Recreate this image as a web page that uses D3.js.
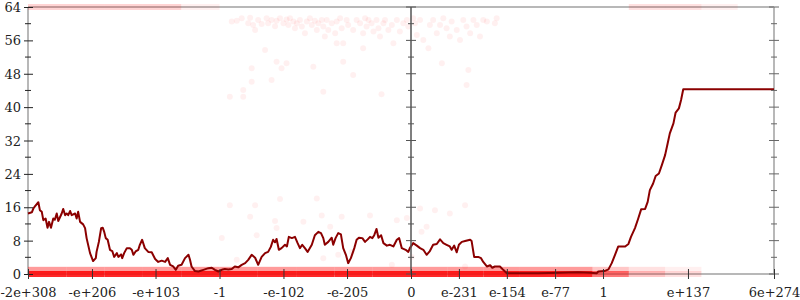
<!DOCTYPE html>
<html>
<head>
<meta charset="utf-8">
<script src="https://cdn.jsdelivr.net/npm/d3@7"></script>
<style>
  body { margin: 0; background: #fff; }
  text { font-family: "DejaVu Serif", serif; font-size: 13px; fill: #222; }
</style>
</head>
<body>
<div id="container"></div>
<script>
/* CONSTANTS AND GLOBALS */
const width = 800,
  height = 300,
  margin = {top: 7, bottom: 26, left: 28, right: 26},
  dotR = 3,
  dotAlpha = 0.06;

// x runs over the ordering of doubles: u = -1 is -max, 0 is zero, +1 is +max
const xTickU = [-1, -0.833, -0.667, -0.5, -0.333, -0.167, 0, 0.132, 0.264, 0.397, 0.529, 0.763, 1];
const xTickLabels = ["-2e+308", "-e+206", "-e+103", "-1", "-e-102", "-e-205", "0",
  "e-231", "e-154", "e-77", "1", "e+137", "6e+274"];
const yMajor = [0, 8, 16, 24, 32, 40, 48, 56, 64];
const yMinor = [4, 12, 20, 28, 36, 44, 52, 60];

// running line (u, value)
const lineU = [-1, -0.990, -0.986, -0.982, -0.973, -0.969, -0.964, -0.960, -0.954, -0.949, -0.945, -0.940,
  -0.934, -0.930, -0.925, -0.921, -0.912, -0.908, -0.903, -0.899, -0.895, -0.890, -0.886, -0.877, -0.873,
  -0.869, -0.864, -0.856, -0.851, -0.847, -0.838, -0.830, -0.823, -0.821, -0.815, -0.809, -0.805, -0.801,
  -0.797, -0.792, -0.786, -0.780, -0.775, -0.768, -0.764, -0.757, -0.754, -0.749, -0.742, -0.734, -0.729,
  -0.725, -0.719, -0.712, -0.708, -0.702, -0.695, -0.686, -0.677, -0.668, -0.660, -0.651, -0.642, -0.635,
  -0.629, -0.621, -0.614, -0.608, -0.599, -0.590, -0.581, -0.577, -0.573, -0.564, -0.555, -0.542, -0.529,
  -0.520, -0.512, -0.503, -0.494, -0.486, -0.477, -0.468, -0.460, -0.451, -0.442, -0.433, -0.425, -0.416,
  -0.407, -0.399, -0.390, -0.381, -0.373, -0.366, -0.360, -0.355, -0.351, -0.345, -0.338, -0.329, -0.324,
  -0.319, -0.311, -0.303, -0.296, -0.290, -0.284, -0.277, -0.270, -0.259, -0.251, -0.242, -0.235, -0.229,
  -0.225, -0.216, -0.207, -0.203, -0.197, -0.190, -0.183, -0.177, -0.170, -0.164, -0.157, -0.148, -0.142,
  -0.136, -0.127, -0.120, -0.113, -0.107, -0.101, -0.096, -0.090, -0.085, -0.078, -0.072, -0.063, -0.055,
  -0.046, -0.037, -0.031, -0.024, -0.014, -0.007, -0.003,
  0.006, 0.016, 0.025, 0.034, 0.043, 0.052, 0.061, 0.071, 0.080, 0.089, 0.098, 0.107, 0.112, 0.119, 0.126,
  0.132, 0.140, 0.149, 0.163, 0.167, 0.174, 0.185, 0.193, 0.199, 0.209, 0.218, 0.224, 0.231, 0.245, 0.254,
  0.264, 0.300, 0.350, 0.410, 0.460, 0.493, 0.512, 0.516, 0.533, 0.544, 0.553, 0.562, 0.571, 0.590, 0.599,
  0.606, 0.617, 0.626, 0.634, 0.645, 0.652, 0.658, 0.667, 0.674, 0.683, 0.691, 0.700, 0.707, 0.713, 0.723,
  0.729, 0.738, 0.744, 0.750, 1];
const lineV = [14.5, 14.8, 15.7, 16.2, 17.2, 15.3, 14.9, 12.9, 13.3, 11.1, 12.5, 11.1,
  13.3, 13.0, 14.5, 12.7, 14.5, 15.6, 14.1, 14.5, 14.1, 15.1, 14.1, 14.5, 13.3,
  14.9, 12.5, 11.9, 11.0, 8.6, 5.0, 3.1, 3.8, 5.3, 7.7, 11.0, 11.1, 10.1,
  8.6, 8.2, 5.8, 5.5, 4.1, 5.0, 4.1, 4.7, 3.8, 5.0, 6.2, 6.2, 5.8,
  4.6, 5.4, 5.8, 7.0, 8.2, 6.2, 5.3, 5.2, 3.6, 2.9, 3.2, 2.9, 3.8,
  2.2, 1.8, 1.0, 2.0, 2.2, 3.8, 4.6, 3.4, 1.8, 0.7, 0.6, 1.0, 1.4,
  1.5, 1.0, 0.6, 1.0, 1.2, 1.1, 1.2, 1.8, 1.6, 2.2, 2.6, 3.4, 4.6,
  3.9, 2.2, 4.1, 5.0, 5.3, 6.5, 8.2, 7.6, 8.4, 5.8, 6.2, 7.0, 6.6,
  8.9, 8.6, 8.9, 7.4, 6.2, 7.0, 6.2, 5.3, 7.0, 9.3, 10.1, 9.8, 8.6,
  7.0, 7.7, 8.7, 7.0, 8.6, 9.8, 9.5, 6.2, 4.6, 2.6, 3.8, 6.2, 8.2,
  8.7, 8.6, 7.7, 8.3, 8.9, 8.6, 9.3, 10.8, 8.7, 9.3, 7.4, 6.8, 7.0,
  6.6, 8.2, 8.6, 6.2, 5.8, 5.3, 6.2,
  7.4, 6.8, 6.2, 5.8, 4.6, 5.5, 7.0, 7.2, 8.3, 7.4, 7.0, 6.6, 5.8, 6.8, 5.2,
  7.0, 7.7, 7.9, 8.2, 7.9, 4.1, 4.1, 3.8, 2.9, 1.8, 2.1, 1.5, 1.8, 1.8, 1.0,
  0.2, 0.2, 0.2, 0.3, 0.4, 0.3, 0.2, 0.6, 0.7, 1.1, 2.6, 4.6, 6.6, 6.6, 7.2,
  8.9, 11.0, 13.3, 15.5, 15.6, 17.3, 20.1, 21.7, 23.5, 24.1, 26.1, 28.5, 31.3, 33.7, 36.1,
  38.7, 39.7, 41.7, 44.3, 44.3];

// scattered samples (u, value)
const dotU = [-0.468, -0.455, -0.442, -0.420, -0.425, -0.412, -0.407, -0.399, -0.390, -0.377, -0.373, -0.364,
  -0.355, -0.351, -0.342, -0.333, -0.325, -0.320, -0.316, -0.307, -0.303, -0.298, -0.290, -0.285, -0.277,
  -0.272, -0.264, -0.259, -0.251, -0.246, -0.242, -0.233, -0.229, -0.225, -0.220, -0.216, -0.207, -0.198,
  -0.194, -0.185, -0.181, -0.177, -0.168, -0.164, -0.151, -0.142, -0.133, -0.125, -0.120, -0.116, -0.111,
  -0.103, -0.098, -0.090, -0.085, -0.081, -0.072, -0.068, -0.059, -0.050, -0.046, -0.037, -0.029, -0.020,
  -0.011, -0.007, 0.006, 0.011, 0.016, 0.025, 0.034, 0.048, 0.052, 0.061, 0.071, 0.080, 0.089, 0.098,
  0.107, 0.112, 0.126, 0.135, 0.144, 0.153, 0.163, 0.172, 0.181, 0.190, 0.199, 0.209, 0.231, 0.236,
  -0.381, -0.351, -0.325, -0.338, -0.416, -0.416, -0.364, -0.438, -0.473, -0.438, -0.255, -0.177, -0.151,
  -0.229, -0.077, 0.085, 0.158, 0.153, -0.125, -0.194,
  -0.473, -0.407, -0.342, -0.246, -0.494, -0.455, -0.355, -0.351, -0.281, -0.233, -0.229, -0.181, -0.211,
  -0.107, -0.037, -0.011, -0.155, -0.190, -0.050, -0.403, -0.420,
  0.025, 0.066, 0.107, 0.149, 0.029, 0.043, 0.002, 0.149];
const dotV = [60.5, 60.7, 61.3, 61.4, 60.1, 59.7, 58.5, 60.9, 59.9, 61.3, 60.1, 60.9,
  59.4, 60.7, 61.3, 60.1, 61.0, 59.7, 61.3, 60.5, 58.9, 60.1, 60.9, 59.3, 57.7,
  60.5, 61.3, 59.7, 60.7, 58.5, 60.1, 60.9, 59.3, 56.9, 60.9, 58.5, 60.1, 57.7,
  60.5, 61.3, 58.9, 55.3, 60.9, 59.7, 58.5, 60.9, 60.1, 57.7, 61.3, 59.3, 60.9,
  60.1, 58.1, 60.9, 58.9, 56.9, 60.1, 60.9, 58.5, 59.7, 55.3, 60.9, 58.1, 60.1,
  60.9, 59.3, 61.3, 60.1, 57.3, 60.9, 56.1, 54.1, 59.7, 60.9, 57.7, 59.7, 61.3, 58.9,
  56.9, 60.5, 58.5, 56.1, 60.9, 59.3, 57.7, 60.9, 59.7, 56.9, 60.9, 60.5, 60.1, 61.3,
  53.7, 50.9, 50.5, 49.3, 49.3, 46.1, 46.5, 44.1, 42.5, 42.5, 49.7, 50.9, 47.7,
  43.7, 43.1, 50.5, 48.9, 45.3, 54.1, 55.3,
  16.5, 16.5, 18.0, 18.1, 8.6, 3.4, 12.7, 11.0, 12.5, 14.0, 3.8, 13.7, 11.3,
  14.0, 12.9, 13.4, 5.3, 4.6, 2.2, 9.3, 13.7,
  15.7, 15.3, 14.5, 16.5, 10.1, 11.3, 4.1, 1.8];

// piled-up samples at 0, 1 and 64, counted per bin of u
const binEdges = [-1, -0.9, -0.8, -0.7, -0.6, -0.5, -0.4, -0.3, -0.2, -0.1, 0,
  0.1, 0.2, 0.3, 0.4, 0.5, 0.6, 0.7, 0.8, 0.9];
const pileAt0 = [30, 30, 30, 30, 30, 30, 30, 30, 30, 30, 30, 30, 30, 30, 30, 12, 4, 2, 0];
const pileAt1 = [8, 8, 8, 8, 8, 8, 8, 8, 8, 8, 8, 8, 8, 8, 8, 4, 2, 1, 0];
const pileAt64 = [3, 3, 3, 3, 1, 0, 0, 0, 0, 0, 0, 0, 0, 0, 0, 0, 2, 2, 1];

/* APPLICATION STATE */
let svg, xScale, yScale;

/* INITIALIZING FUNCTION */
function init() {
  xScale = d3.scaleLinear()
    .domain([-1, 0, 1])
    .range([margin.left, 411, width - margin.right]);

  yScale = d3.scaleLinear()
    .domain([0, 64])
    .range([height - margin.bottom, margin.top]);

  svg = d3.select("#container")
    .append("svg")
    .attr("width", width)
    .attr("height", height);

  // frame
  const x0 = xScale(-1), x1 = xScale(1), y0 = yScale(0), y1 = yScale(64);
  const frame = svg.append("g").attr("stroke", "#b8b8b8").attr("stroke-width", 2);
  frame.append("line").attr("x1", x0).attr("x2", x1).attr("y1", y1).attr("y2", y1);
  frame.append("line").attr("x1", x0).attr("x2", x1).attr("y1", y0).attr("y2", y0);
  frame.append("line").attr("x1", x0).attr("x2", x0).attr("y1", y1).attr("y2", y0);
  frame.append("line").attr("x1", x1).attr("x2", x1).attr("y1", y1).attr("y2", y0);

  draw();
}

/* DRAW FUNCTION */
function draw() {
  const pileOpacity = n => 1 - Math.pow(1 - dotAlpha, n);
  const piles = [];
  [[0, pileAt0], [1, pileAt1], [64, pileAt64]].forEach(([v, counts]) => {
    counts.forEach((n, i) => { if (n > 0) piles.push({u0: binEdges[i], u1: binEdges[i + 1], v, n}); });
  });

  svg.append("g")
    .selectAll("rect.pile")
    .data(piles)
    .join("rect")
    .attr("class", "pile")
    .attr("x", d => xScale(d.u0))
    .attr("width", d => xScale(d.u1) - xScale(d.u0))
    .attr("y", d => yScale(d.v) - dotR)
    .attr("height", dotR * 2)
    .attr("fill", "#ff0000")
    .attr("fill-opacity", d => pileOpacity(d.n));

  svg.append("g")
    .selectAll("circle.dot")
    .data(d3.zip(dotU, dotV))
    .join("circle")
    .attr("class", "dot")
    .attr("cx", d => xScale(d[0]))
    .attr("cy", d => yScale(d[1]))
    .attr("r", dotR)
    .attr("fill", "#ff0000")
    .attr("fill-opacity", dotAlpha);

  const line = d3.line()
    .x(d => xScale(d[0]))
    .y(d => yScale(d[1]));

  svg.append("path")
    .datum(d3.zip(lineU, lineV))
    .attr("d", line)
    .attr("fill", "none")
    .attr("stroke", "#8b0000")
    .attr("stroke-width", 2)
    .attr("stroke-linejoin", "round");

  // + AXES
  const yAxisL = d3.axisLeft(yScale).tickValues(yMajor).tickSize(4).tickPadding(3);
  const gl = svg.append("g")
    .attr("transform", `translate(${xScale(-1)},0)`)
    .call(yAxisL);
  gl.select(".domain").remove();
  gl.selectAll(".tick line").attr("x2", -4).attr("x1", 5).attr("stroke", "#222");
  gl.selectAll(".tick text").attr("x", -7).attr("dy", "0.35em").attr("font-size", null).attr("font-family", null);

  // minor ticks on the three vertical axes, major on middle and right
  [[-1, "#222"], [0, "#555"], [1, "#666"]].forEach(([u, col]) => {
    const g = svg.append("g").attr("stroke", col);
    if (u !== -1) {
      g.selectAll("line.maj").data(yMajor).join("line")
        .attr("x1", xScale(u) - 5).attr("x2", xScale(u) + 5)
        .attr("y1", d => yScale(d)).attr("y2", d => yScale(d));
    }
    g.selectAll("line.min").data(yMinor).join("line")
      .attr("x1", xScale(u) - 3).attr("x2", xScale(u) + 3)
      .attr("y1", d => yScale(d)).attr("y2", d => yScale(d));
  });

  svg.append("line")
    .attr("x1", xScale(0)).attr("x2", xScale(0))
    .attr("y1", yScale(64)).attr("y2", yScale(0))
    .attr("stroke", "#555").attr("stroke-width", 1.5);

  const xAxis = d3.axisBottom(xScale)
    .tickValues(xTickU)
    .tickFormat((d, i) => xTickLabels[i])
    .tickSize(5).tickPadding(9);
  const gx = svg.append("g")
    .attr("transform", `translate(0,${yScale(0)})`)
    .call(xAxis);
  gx.select(".domain").remove();
  gx.selectAll(".tick line").attr("y1", -5).attr("stroke", "#333");
  gx.selectAll(".tick text").attr("font-size", null).attr("font-family", null);
}

init();
</script>
</body>
</html>
